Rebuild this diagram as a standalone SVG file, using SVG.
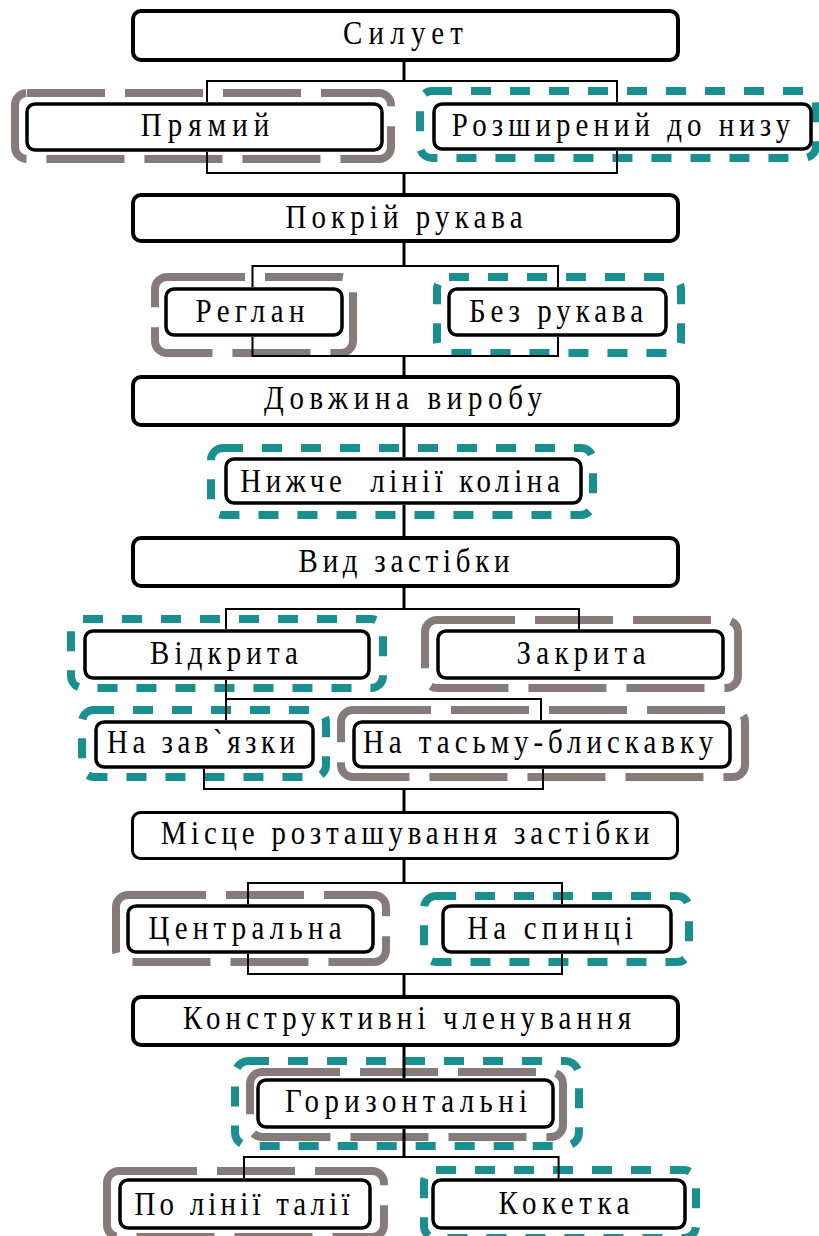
<svg xmlns="http://www.w3.org/2000/svg" width="819" height="1236" viewBox="0 0 819 1236">
<style>
.bg{fill:#fff}
.h{fill:#fff;stroke:#000;stroke-width:4}
.c{fill:#fff;stroke:#000;stroke-width:3.5}
.og{fill:none;stroke:#877b7a;stroke-width:8;stroke-dasharray:78 20}
.ot{fill:none;stroke:#19908f;stroke-width:8;stroke-dasharray:20 19}
.t{font-family:"Liberation Serif","Times New Roman",serif;font-size:34px;fill:#000;text-anchor:middle}
.k{fill:none;stroke:#000;stroke-width:3}
.b{fill:none;stroke:#000;stroke-width:2}
</style>
<rect class="bg" x="0" y="0" width="819" height="1236"/>
<g id="n-siluet"><rect class="h" x="133" y="11" width="545" height="49" rx="8"/><text class="t" transform="translate(403,44) scale(0.85,1)" textLength="141" lengthAdjust="spacing">Силует</text></g>
<g id="n-pryamyi"><rect class="og" x="15" y="93" width="376" height="66" rx="12"/><rect class="c" x="27" y="104" width="355" height="46" rx="8"/><text class="t" transform="translate(205,136) scale(0.85,1)" textLength="151" lengthAdjust="spacing">Прямий</text></g>
<g id="n-rozshyrenyi"><rect class="ot" x="420" y="91" width="396" height="67" rx="12"/><rect class="c" x="434" y="104" width="377" height="45" rx="8"/><text class="t" transform="translate(621,136) scale(0.85,1)" textLength="398" lengthAdjust="spacing">Розширений до низу</text></g>
<g id="n-pokrii"><rect class="h" x="133" y="195" width="545" height="46" rx="8"/><text class="t" transform="translate(404,228) scale(0.85,1)" textLength="279" lengthAdjust="spacing">Покрій рукава</text></g>
<g id="n-reglan"><rect class="og" x="155" y="277" width="198" height="76" rx="12"/><rect class="c" x="166" y="289" width="176" height="46" rx="8"/><text class="t" transform="translate(250,322) scale(0.85,1)" textLength="128" lengthAdjust="spacing">Реглан</text></g>
<g id="n-bez-rukava"><rect class="ot" x="437" y="277" width="244" height="76" rx="12"/><rect class="c" x="449" y="289" width="217" height="46" rx="8"/><text class="t" transform="translate(556,322) scale(0.85,1)" textLength="205" lengthAdjust="spacing">Без рукава</text></g>
<g id="n-dovzhyna"><rect class="h" x="133" y="377" width="545" height="48" rx="8"/><text class="t" transform="translate(403,409) scale(0.85,1)" textLength="327" lengthAdjust="spacing">Довжина виробу</text></g>
<g id="n-nyzhche"><rect class="ot" x="211" y="448" width="382" height="67" rx="12"/><rect class="c" x="226" y="459" width="355" height="44" rx="8"/><text class="t" xml:space="preserve" transform="translate(400,492) scale(0.85,1)" textLength="376" lengthAdjust="spacing">Нижче  лінії коліна</text></g>
<g id="n-vyd"><rect class="h" x="133" y="538" width="545" height="48" rx="8"/><text class="t" transform="translate(404,572) scale(0.85,1)" textLength="248" lengthAdjust="spacing">Вид застібки</text></g>
<g id="n-vidkryta"><rect class="ot" x="71" y="619" width="312" height="69" rx="12"/><rect class="c" x="85" y="631" width="284" height="47" rx="8"/><text class="t" transform="translate(224,664) scale(0.85,1)" textLength="174" lengthAdjust="spacing">Відкрита</text></g>
<g id="n-zakryta"><rect class="og" x="425" y="620" width="313" height="68" rx="12"/><rect class="c" x="438" y="631" width="285" height="47" rx="8"/><text class="t" transform="translate(581,664) scale(0.85,1)" textLength="152" lengthAdjust="spacing">Закрита</text></g>
<g id="n-zavyazky"><rect class="ot" x="82" y="710" width="244" height="67" rx="12"/><rect class="c" x="96" y="722" width="217" height="45" rx="8"/><text class="t" transform="translate(201,753) scale(0.85,1)" textLength="221" lengthAdjust="spacing">На зав`язки</text></g>
<g id="n-tasmu"><rect class="og" x="341" y="710" width="404" height="67" rx="12"/><rect class="c" x="354" y="722" width="376" height="45" rx="8"/><text class="t" transform="translate(538,753) scale(0.85,1)" textLength="412" lengthAdjust="spacing">На тасьму-блискавку</text></g>
<g id="n-mistse"><rect class="h" x="132.5" y="812.5" width="545" height="46" rx="8" style="stroke-width:3"/><text class="t" transform="translate(405,844) scale(0.85,1)" textLength="575" lengthAdjust="spacing">Місце розташування застібки</text></g>
<g id="n-tsentralna"><rect class="og" x="116" y="895" width="270" height="67" rx="12"/><rect class="c" x="128" y="906" width="245" height="46" rx="8"/><text class="t" transform="translate(245,939) scale(0.85,1)" textLength="227" lengthAdjust="spacing">Центральна</text></g>
<g id="n-spyntsi"><rect class="ot" x="424" y="896" width="265" height="66" rx="12"/><rect class="c" x="443" y="906" width="228" height="46" rx="8"/><text class="t" transform="translate(550,939) scale(0.85,1)" textLength="195" lengthAdjust="spacing">На спинці</text></g>
<g id="n-konstruktyvni"><rect class="h" x="133" y="997" width="545" height="48" rx="8"/><text class="t" transform="translate(407,1029) scale(0.85,1)" textLength="527" lengthAdjust="spacing">Конструктивні членування</text></g>
<g id="n-horyzontalni"><rect class="ot" x="235" y="1061" width="344" height="85" rx="14"/><rect class="og" x="250" y="1072" width="313" height="65" rx="12"/><rect class="c" x="258" y="1080" width="295" height="47" rx="8"/><text class="t" transform="translate(406,1112) scale(0.85,1)" textLength="285" lengthAdjust="spacing">Горизонтальні</text></g>
<g id="n-taliia"><rect class="og" x="107" y="1171" width="277" height="66" rx="12"/><rect class="c" x="120" y="1180" width="250" height="48" rx="8"/><text class="t" transform="translate(242,1215) scale(0.85,1)" textLength="253" lengthAdjust="spacing">По лінії талії</text></g>
<g id="n-koketka"><rect class="ot" x="424" y="1170" width="272" height="68" rx="12"/><rect class="c" x="433" y="1180" width="252" height="48" rx="8"/><text class="t" transform="translate(564,1214) scale(0.85,1)" textLength="154" lengthAdjust="spacing">Кокетка</text></g>
<g id="connectors">
<path class="k" d="M404,61V81M404,173V193M404,243V266M404,356V375M404,427V457M404,505V536M404,588V609M404,789V811M404,860V883M404,974V995M404,1047V1078M404,1129V1157"/>
<path class="b" d="M207,102V81H617V102M207,152V173H617V151"/>
<path class="b" d="M252.5,287V266H558V287M252.5,337V356H558V337"/>
<path class="b" d="M226,629V609H579V629"/>
<path class="b" d="M226,680V720M226,699H541V720"/>
<path class="b" d="M204,769V789H543V769"/>
<path class="b" d="M248,904V883H562V904M248,954V974H562V954"/>
<path class="b" d="M244,1178V1157H558.6V1178"/>
</g>
</svg>
